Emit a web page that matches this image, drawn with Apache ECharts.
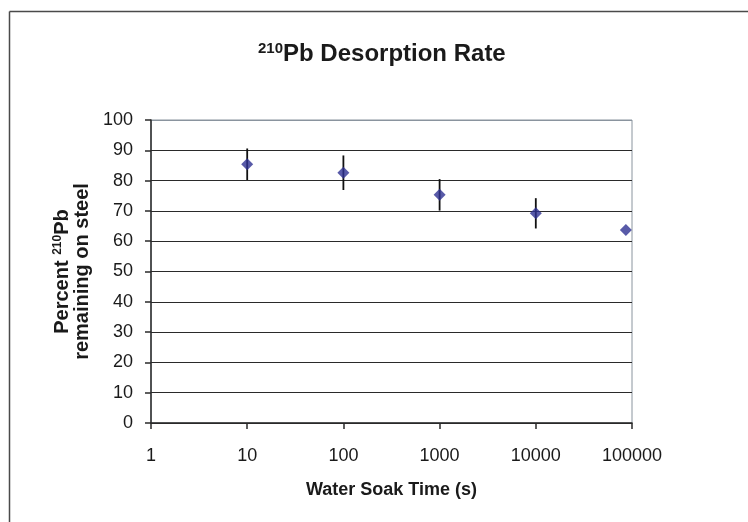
<!DOCTYPE html>
<html>
<head>
<meta charset="utf-8">
<script src="https://cdn.jsdelivr.net/npm/echarts@6/dist/echarts.min.js"></script>
<style>
html,body{margin:0;padding:0;background:#fff;}
#chart{width:748px;height:522px;}
</style>
</head>
<body>
<div id="chart"></div>
<script>
// Data
var soakTimes = [10, 100, 1000, 10000, 86400];
var percentRemaining = [85.4, 82.6, 75.3, 69.2, 63.7];
var errors = [5.2, 5.7, 5.2, 5.0, 0];
var yTicks = [0, 10, 20, 30, 40, 50, 60, 70, 80, 90, 100];

var FONT = '"Liberation Sans", Arial, sans-serif';
var chart = echarts.init(document.getElementById('chart'), null, {renderer: 'canvas'});

var pts = soakTimes.map(function (t, i) { return [t, percentRemaining[i]]; });
var errData = soakTimes.map(function (t, i) { return [t, percentRemaining[i] - errors[i], percentRemaining[i] + errors[i]]; });

var splitColors = yTicks.map(function (v) { return v === 100 ? '#8a949e' : '#2a2a2a'; });

var option = {
  backgroundColor: '#fff',
  animation: false,
  title: {
    text: '{sup|210}{t|Pb Desorption Rate}',
    left: 253,
    top: 36,
    textStyle: {
      rich: {
        sup: {fontFamily: FONT, fontWeight: 'bold', fontSize: 15, color: '#1a1a1a', padding: [0, 0, 11, 0]},
        t: {fontFamily: FONT, fontWeight: 'bold', fontSize: 24, color: '#1a1a1a'}
      }
    }
  },
  grid: {
    left: 151, right: 116, top: 120, bottom: 99,
    show: true, borderColor: '#8a949e', borderWidth: 1, backgroundColor: '#fff'
  },
  xAxis: {
    type: 'log',
    logBase: 10,
    min: 1,
    max: 100000,
    name: 'Water Soak Time (s)',
    nameLocation: 'middle',
    nameGap: 58,
    nameTextStyle: {fontFamily: FONT, fontWeight: 'bold', fontSize: 18, color: '#1a1a1a'},
    axisLine: {show: true, onZero: false, lineStyle: {color: '#2a2a2a', width: 1.5}},
    axisTick: {show: true, length: 6, inside: false, lineStyle: {color: '#2a2a2a', width: 1.5}},
    axisLabel: {
      margin: 24,
      fontFamily: FONT, fontSize: 18, color: '#1a1a1a',
      formatter: function (v) { return String(Math.round(v)); }
    },
    splitLine: {show: false},
    minorTick: {show: false}
  },
  yAxis: {
    type: 'value',
    min: 0,
    max: 100,
    interval: 10,
    name: '{t|Percent }{sup|210}{t|Pb}\n{t|remaining on steel}',
    nameLocation: 'middle',
    nameRotate: 90,
    nameGap: 57,
    nameTextStyle: {
      lineHeight: 20,
      rich: {
        t: {fontFamily: FONT, fontWeight: 'bold', fontSize: 20, color: '#1a1a1a', lineHeight: 20},
        sup: {fontFamily: FONT, fontWeight: 'bold', fontSize: 12, color: '#1a1a1a', lineHeight: 20, padding: [0, 0, 9, 0]}
      }
    },
    axisLine: {show: true, lineStyle: {color: '#2a2a2a', width: 1.5}},
    axisTick: {show: true, length: 6, lineStyle: {color: '#2a2a2a', width: 1.5}},
    axisLabel: {margin: 18, fontFamily: FONT, fontSize: 18, color: '#1a1a1a'},
    splitLine: {show: true, lineStyle: {color: splitColors, width: 1.2}}
  },
  graphic: [
    {type: 'line', shape: {x1: 9.5, y1: 11.5, x2: 748, y2: 11.5}, style: {stroke: '#4a4a4a', lineWidth: 1.5}, z: 100},
    {type: 'line', shape: {x1: 9.5, y1: 11.5, x2: 9.5, y2: 522}, style: {stroke: '#4a4a4a', lineWidth: 1.5}, z: 100}
  ],
  series: [
    {
      type: 'custom',
      data: errData,
      z: 3,
      renderItem: function (params, api) {
        var x = api.value(0);
        var lo = api.coord([x, api.value(1)]);
        var hi = api.coord([x, api.value(2)]);
        return {
          type: 'line',
          shape: {x1: lo[0], y1: lo[1], x2: hi[0], y2: hi[1]},
          style: {stroke: '#111', lineWidth: 1.8}
        };
      }
    },
    {
      type: 'scatter',
      data: pts,
      symbol: 'diamond',
      symbolSize: [12, 12],
      itemStyle: {color: '#2e3192'},
      z: 5
    }
  ]
};
chart.setOption(option);
</script>
</body>
</html>
